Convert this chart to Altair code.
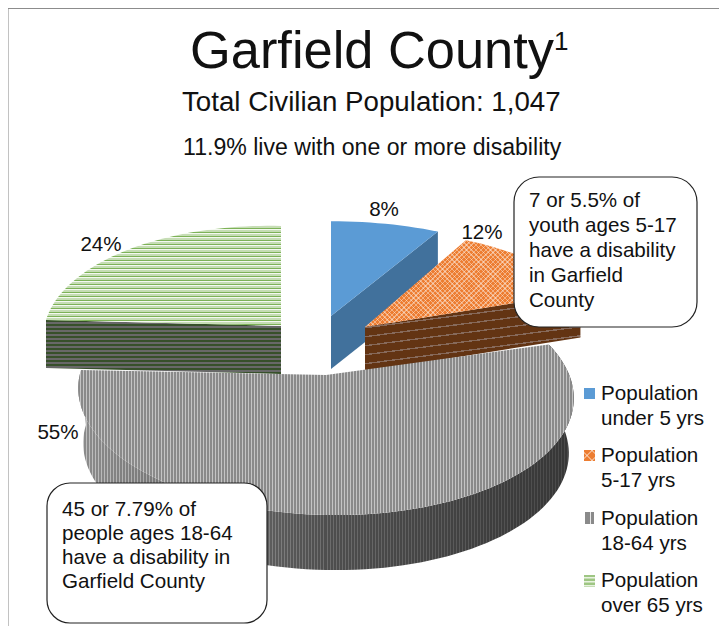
import math
import altair as alt
import pandas as pd

# ---------- data ----------
categories = ["Population under 5 yrs", "Population 5-17 yrs", "Population 18-64 yrs", "Population over 65 yrs"]
shares = [8, 12, 55, 24]
share_labels = ["8%", "12%", "55%", "24%"]
label_x = [384, 482, 58, 101]
label_y = [216, 239, 439, 251]

title_text = ["Garfield County"]
sup_text = ["1"]
sub1_text = ["Total Civilian Population: 1,047"]
sub2_text = ["11.9% live with one or more disability"]

legend_line1 = ["Population"] * 4
legend_line2 = ["under 5 yrs", "5-17 yrs", "18-64 yrs", "over 65 yrs"]
legend_y1 = [400, 462, 525, 587]
legend_y2 = [425, 487, 550, 612]

callout1 = ["7 or 5.5% of", "youth ages 5-17", "have a disability", "in Garfield", "County"]
callout1_y = [207, 232, 257, 282, 307]
callout2 = ["45 or 7.79% of", "people ages 18-64", "have a disability in", "Garfield County"]
callout2_y = [516, 540, 564, 588]

W, H = 711, 618
X_SCALE = alt.Scale(domain=[8, 8 + W], range=[0, W])
Y_SCALE = alt.Scale(domain=[8, 8 + H], range=[0, H])
PROJ = dict(type="identity", scale=1, translate=[-8, -8])

# exploded 3-D pie geometry: (cx, cy, R, Q, k, shear, wall drop, wall shrink)
GEOM = {
    "blue": (331, 316, 251, 109, 0.15, 0, 53, 1.0),
    "orange": (365, 327, 237, 111, 0.15, -2, 45, 1.0),
    "grey": (326, 375, 245, 119, 0.15, 5, 55, 0.98),
    "green": (281, 326, 235, 115, 0.15, 6, 48, 1.0),
}


def angles():
    out, c = [], 0
    for i, s in enumerate(shares):
        a = c * 3.6
        c += s
        b = 360.0 if i == len(shares) - 1 else c * 3.6
        out.append((a, b))
    return out


def pt(name, deg, on_wall=False):
    cx, cy, R, Q, k, s, d, shr = GEOM[name]
    t = math.radians(deg)
    u, v = math.sin(t), math.cos(t)
    w = 1 + k * v
    x = R * u / w
    y = -Q * v / w + s * u / w
    if on_wall:
        return [cx + x * shr, cy + y + d]
    return [cx + x, cy + y]


def arc(name, a, b, on_wall=False):
    n = max(2, int(abs(b - a) / 2))
    return [pt(name, a + (b - a) * i / n, on_wall) for i in range(n + 1)]


def apex(name, on_wall=False):
    cx, cy, *_, d, shr = GEOM[name]
    return [cx, cy + (d if on_wall else 0)]


def poly(points):
    ring = points + [points[0]]
    return {"type": "Feature", "properties": {}, "geometry": {"type": "Polygon", "coordinates": [ring]}}


def stripes(extent, period, seq):
    total = sum(l for _, l in seq)
    scale = period / total
    stops, pos = [], 0.0
    while pos < extent:
        for color, l in seq:
            a = min(pos / extent, 1)
            pos += l * scale
            b = min(pos / extent, 1)
            stops.append(alt.GradientStop(color=color, offset=a))
            stops.append(alt.GradientStop(color=color, offset=b))
    return stops


def bbox(points):
    xs = [p[0] for p in points]
    ys = [p[1] for p in points]
    return max(xs) - min(xs), max(ys) - min(ys)


def hgrad(points, period, seq):
    w, _ = bbox(points)
    return alt.Gradient(gradient="linear", x1=0, y1=0, x2=1, y2=0, stops=stripes(w, period, seq))


def vgrad(points, period, seq):
    _, h = bbox(points)
    return alt.Gradient(gradient="linear", x1=0, y1=0, x2=0, y2=1, stops=stripes(h, period, seq))


def tilted(points, m, period, seq):
    # stripes rising to the right with pixel slope m
    w, h = bbox(points)
    q = m * w / h
    a = (1 + q) / (1 + q * q) * 1.02
    extent = h * a * (1 + q * q)
    return alt.Gradient(gradient="linear", x1=0, y1=0, x2=a * q, y2=a, stops=stripes(extent, period, seq))


def diag(w, h, sign, period, seq):
    r = h / w
    a = (1 + r) / (1 + r * r) * 1.02
    extent = a * w * (1 + r * r) / math.sqrt(2)
    stops = stripes(extent, period, seq)
    if sign > 0:
        return alt.Gradient(gradient="linear", x1=0, y1=0, x2=a, y2=a * r, stops=stops)
    return alt.Gradient(gradient="linear", x1=0, y1=1, x2=a, y2=1 - a * r, stops=stops)


def shape(points, fill):
    return alt.Chart(alt.Data(values=[poly(points)])).mark_geoshape(fill=fill, stroke=None).project(**PROJ)


def text_layer(labels, xs, ys, size, align="left", color="#111111"):
    df = pd.DataFrame({"t": labels, "x": xs, "y": ys})
    return alt.Chart(df).mark_text(
        font="Liberation Sans", fontSize=size, align=align, baseline="alphabetic", color=color
    ).encode(
        x=alt.X("x:Q", scale=X_SCALE, axis=None),
        y=alt.Y("y:Q", scale=Y_SCALE, axis=None),
        text="t:N",
    )


def rect(x1, x2, y1, y2, **mark):
    df = pd.DataFrame({"x": [x1], "x2": [x2], "y": [y1], "y2": [y2]})
    return alt.Chart(df).mark_rect(**mark).encode(
        x=alt.X("x:Q", scale=X_SCALE, axis=None), x2="x2:Q",
        y=alt.Y("y:Q", scale=Y_SCALE, axis=None), y2="y2:Q",
    )


ang = angles()
HATCH = "rgba(255,255,255,0.4)"
CLEAR = "rgba(255,255,255,0)"
layers = []

# frame
layers.append(rect(8, 8.9, 8, 8 + H, color="#bcbcbc"))
layers.append(rect(8, 8 + W, 8, 9, color="#8c8c8c"))

# green slice
a, b = ang[3]
g_wall = [apex("green"), pt("green", a), pt("green", a, True), apex("green", True)]
layers.append(shape(g_wall, vgrad(g_wall, 4, [("#37502a", 2.2), ("#686868", 1.8)])))
g_top = [apex("green")] + arc("green", a, b)
layers.append(shape(g_top, vgrad(g_top, 4, [("#c6ddb5", 2), ("#7db257", 1), ("#f4f9f0", 1)])))

# blue slice
a, b = ang[0]
b_wall = [apex("blue"), pt("blue", b), pt("blue", b, True), apex("blue", True)]
layers.append(shape(b_wall, "#41719c"))
layers.append(shape([apex("blue")] + arc("blue", a, b), "#5b9bd5"))

# orange slice
a, b = ang[1]
o_wall = [apex("orange"), pt("orange", b), pt("orange", b, True), apex("orange", True)]
layers.append(shape(o_wall, tilted(o_wall, 0.13, 9, [("#633413", 7.6), ("#86695a", 1.4)])))
o_top = [apex("orange")] + arc("orange", a, b)
layers.append(shape(o_top, "#ed7d31"))
ow, oh = bbox(o_top)
hatch = [(HATCH, 1.0), (CLEAR, 2.4)]
layers.append(shape(o_top, diag(ow, oh, 1, 3.4, hatch)))
layers.append(shape(o_top, diag(ow, oh, -1, 3.4, hatch)))

# grey slice
a, b = ang[2]
wall_pts = arc("grey", a, b) + list(reversed(arc("grey", a, b, True)))
wx = [p[0] for p in wall_pts]
wx0, wx1 = min(wx), max(wx)


def shade(t, lo, mid, hi):
    c = lo + (mid - lo) * t * 2 if t < 0.5 else mid + (hi - mid) * (t - 0.5) * 2
    v = int(round(c))
    return f"#{v:02x}{v:02x}{v:02x}"


n = int((wx1 - wx0) / 3)
wall_seq = []
for i in range(n):
    t = i / n
    wall_seq.append((shade(t, 0x8c, 0x4e, 0x36), 2))
    wall_seq.append((shade(t, 0xc0, 0x6c, 0x48), 1))
layers.append(shape(wall_pts, hgrad(wall_pts, wx1 - wx0, wall_seq)))
g_surface = [apex("grey")] + arc("grey", a, b)
layers.append(shape(g_surface, hgrad(g_surface, 3, [("#8a8a8a", 2), ("#c4c4c4", 1)])))

# callouts
layers.append(rect(514, 697, 177, 327, fill="white", stroke="#222222", strokeWidth=1.2, cornerRadius=25))
layers.append(rect(47, 267, 483, 623, fill="white", stroke="#222222", strokeWidth=1.2, cornerRadius=23))
layers.append(text_layer(callout1, [529] * 5, callout1_y, 20.6))
layers.append(text_layer(callout2, [62] * 4, callout2_y, 20.6))

# titles
layers.append(text_layer(title_text, [190], [68], 52.4))
layers.append(text_layer(sup_text, [554], [50], 26))
layers.append(text_layer(sub1_text, [182], [111], 27.7))
layers.append(text_layer(sub2_text, [183], [155], 23.1))

# slice labels
layers.append(text_layer(share_labels, label_x, label_y, 20.6, align="center"))

# legend
layers.append(rect(584, 595, 388, 399, color="#5b9bd5"))
layers.append(rect(584, 595, 450, 461, color="#ed7d31"))
layers.append(rect(584, 595, 450, 461, color=diag(11, 11, 1, 7, [(CLEAR, 5.5), (HATCH, 1.5)])))
layers.append(rect(584, 595, 450, 461, color=diag(11, 11, -1, 7, [(CLEAR, 5.5), (HATCH, 1.5)])))
grey_sw = alt.Gradient(gradient="linear", x1=0, y1=0, x2=1, y2=0,
                       stops=stripes(11, 11, [("#8a8a8a", 6), ("#e8e8e8", 1), ("#8a8a8a", 3), ("#ffffff", 1)]))
layers.append(rect(585, 595, 512, 524, color=grey_sw))
green_sw = alt.Gradient(gradient="linear", x1=0, y1=0, x2=0, y2=1,
                        stops=stripes(12, 4, [("#9ec683", 2), ("#e8f2e0", 1), ("#c6ddb5", 1)]))
layers.append(rect(584, 595, 575, 587, color=green_sw))
layers.append(text_layer(legend_line1, [601] * 4, legend_y1, 20.6))
layers.append(text_layer(legend_line2, [601] * 4, legend_y2, 20.6))

chart = alt.layer(*layers).resolve_scale(x="shared", y="shared").properties(
    width=W, height=H, padding=0, autosize=alt.AutoSizeParams(type="none"),
    background="white",
).configure_view(stroke=None)

chart.save("out.html", embed_options={"renderer": "svg", "actions": False})
